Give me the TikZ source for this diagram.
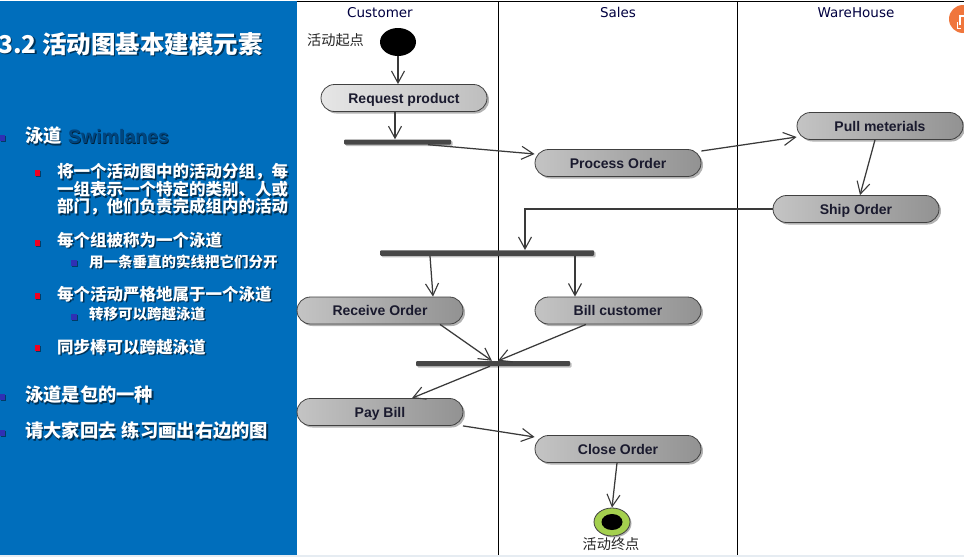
\documentclass[tikz,border=0pt]{standalone}
\usepackage{fontspec}
\setmainfont{Liberation Sans}
\newfontfamily\cjk{Noto Sans CJK SC}
\newfontfamily\verd{DejaVu Sans}
\usetikzlibrary{arrows.meta,shadows,shapes.geometric,shapes.misc,calc}
\definecolor{panel}{HTML}{006EBC}
\definecolor{bulblue}{HTML}{3030B4}
\definecolor{bulred}{HTML}{F00020}
\definecolor{swim}{HTML}{00457F}
\definecolor{arrowgray}{HTML}{3A3A3A}
\definecolor{pillL}{HTML}{C4C4C4}
\definecolor{pillR}{HTML}{929292}
\definecolor{pillLL}{HTML}{E6E6E6}
\definecolor{pillLR}{HTML}{BEBEBE}
\definecolor{endgreen}{HTML}{A4D04E}
\definecolor{iconorange}{HTML}{F0763C}
\definecolor{pilltext}{HTML}{1A1A2E}
\definecolor{strip}{HTML}{E6ECF2}
\tikzset{
 txt/.style={anchor=west,inner sep=0pt,text=white,font=\cjk\bfseries},
 txtshadow/.style={anchor=west,inner sep=0pt,text=black!55!panel,font=\cjk\bfseries},
 bul/.style={minimum size=5.5pt,inner sep=0pt,drop shadow={shadow xshift=1pt,shadow yshift=-1pt,opacity=.45,fill=black}},
 pill/.style={rounded rectangle,draw=black!75,line width=.8pt,minimum width=166pt,minimum height=27pt,inner sep=0pt,
   left color=pillL,right color=pillR,text=pilltext,text height=10.5pt,text depth=.5pt,
   font=\fontsize{14}{15}\selectfont\bfseries,drop shadow={shadow xshift=2pt,shadow yshift=-2pt,opacity=.3,fill=black}},
 pilllight/.style={pill,left color=pillLL,right color=pillLR},
 syncbar/.style={fill=black!72,inner sep=0pt,rounded corners=1pt,drop shadow={shadow xshift=1.5pt,shadow yshift=-1.5pt,opacity=.25,fill=black}},
 flow/.style={draw=arrowgray,line width=1.25pt,-{Straight Barb[length=12pt,width=13pt,line width=1.1pt]}},
 lane/.style={draw=black,line width=1pt},
 head/.style={font=\verd\fontsize{13.5}{15}\selectfont,text=black!75!blue,inner sep=0pt,text height=10pt,text depth=0pt},
 note/.style={font=\cjk\fontsize{14.2}{16}\selectfont,text=black!85,inner sep=0pt},
}
\newcommand{\lbl}[5]{%
 \node[txtshadow,font=\cjk\bfseries\fontsize{#4}{#4}\selectfont] (#1s) at (#2+1.3,#3+1.3) {#5};
 \node[txt,font=\cjk\bfseries\fontsize{#4}{#4}\selectfont] (#1) at (#2,#3) {#5};}
\begin{document}
\begin{tikzpicture}[x=1pt,y=-1pt]
\useasboundingbox (0,0) rectangle (964,557);
\fill[white] (0,0) rectangle (964,557);
\fill[panel] (0,1) rectangle (297,555);
\fill[strip] (0,555) rectangle (964,557);
% lanes
\draw[lane] (297,1) -- (964,1);
\coordinate (laneA) at (498,1);
\coordinate (laneB) at (737,1);
\draw[lane] (laneA) -- (498,555);
\draw[lane] (laneB) -- (737,555);
\node[head] (hc) at (380,12.5) {Customer};
\node[head] (hs) at (618,12.5) {Sales};
\node[head] (hw) at (856,12.5) {WareHouse};
% left text
\lbl{title}{-2}{44}{24.5}{3.2 活动图基本建模元素}
\node[bul,fill=bulblue] (b1) at (2.5,138) {};
\node[txtshadow,text=black!70!panel,font=\fontsize{19.5}{19.5}\selectfont\bfseries] (sws) at (68.6,137.6) {Swimlanes};
\node[txt,text=swim,font=\fontsize{19.5}{19.5}\selectfont\bfseries] (sw) at (68,137) {Swimlanes};
\lbl{l1}{25}{136}{18.3}{泳道}
\node[bul,fill=bulred] (b2) at (37.5,173) {};
\lbl{a1}{57}{172}{16.5}{将一个活动图中的活动分组，每}
\lbl{a2}{57}{189.5}{16.5}{一组表示一个特定的类别、人或}
\lbl{a3}{57}{207}{16.5}{部门，他们负责完成组内的活动}
\node[bul,fill=bulred] (b3) at (37.5,243) {};
\lbl{c1}{57}{240}{16.5}{每个组被称为一个泳道}
\node[bul,fill=bulblue] (b4) at (74,263) {};
\lbl{c2}{89}{261.5}{14.5}{用一条垂直的实线把它们分开}
\node[bul,fill=bulred] (b5) at (37.5,296) {};
\lbl{d1}{57}{294}{16.5}{每个活动严格地属于一个泳道}
\node[bul,fill=bulblue] (b6) at (74,317) {};
\lbl{d2}{89}{314}{14.5}{转移可以跨越泳道}
\node[bul,fill=bulred] (b7) at (37.5,348) {};
\lbl{e1}{57}{347}{16.5}{同步棒可以跨越泳道}
\node[bul,fill=bulblue] (b8) at (2.5,397) {};
\lbl{f1}{25}{395}{18.3}{泳道是包的一种}
\node[bul,fill=bulblue] (b9) at (2.5,433) {};
\lbl{g1}{25}{431}{18.3}{请大家回去 \kern1pt 练习画出右边的图}
% icon
\fill[iconorange] (963,19) circle (14);
\draw[white,line width=1.3pt] (960,25) -- (960,16) -- (964,16);
\draw[white,line width=1pt] (957,22) -- (957,28) -- (961,28);
% nodes
\node[ellipse,fill=black,minimum width=36pt,minimum height=28pt,inner sep=0pt] (start) at (398,42) {};
\node[note] (startl) at (335.5,40) {活动起点};
\node[pilllight] (req) at (404,98) {Request product};
\node[pill] (proc) at (618,163) {Process Order};
\node[pill] (pull) at (880,126) {Pull meterials};
\node[pill] (ship) at (856,209) {Ship Order};
\node[pill] (recv) at (380,310.5) {Receive Order};
\node[pill] (bill) at (618,310.5) {Bill customer};
\node[pill] (pay) at (380,412) {Pay Bill};
\node[pill] (close) at (618,449) {Close Order};
\node[syncbar,minimum width=107pt,minimum height=5pt] (bar1) at (397.5,142) {};
\node[syncbar,minimum width=214pt,minimum height=5.5pt] (bar2) at (487,253) {};
\node[syncbar,minimum width=154pt,minimum height=5pt] (bar3) at (493,363.5) {};
\node[ellipse,draw=black!75,line width=.8pt,fill=endgreen,minimum width=36pt,minimum height=28pt,inner sep=0pt,
  drop shadow={shadow xshift=1.5pt,shadow yshift=-1.5pt,opacity=.3,fill=black}] (end) at (612,522) {};
\node[ellipse,fill=black,minimum width=21pt,minimum height=16pt,inner sep=0pt] (endin) at (end) {};
\node[note] (endl) at (611,544) {活动终点};
% connectors
\draw[flow] (start.south) -- (start.south |- req.north);
\draw[flow] ([xshift=-9pt]req.south) -- ([xshift=-2.5pt]bar1.north);
\draw[flow] ([xshift=30.5pt]bar1.south) -- ([yshift=9pt]proc.west);
\draw[flow] ([yshift=12pt]proc.east) -- ([yshift=-11pt]pull.west);
\draw[flow] ([xshift=-5pt]pull.south) -- ([xshift=4pt]ship.north);
\draw[flow] (ship.west) -| ([xshift=38pt]bar2.north);
\draw[flow] ([xshift=-57pt]bar2.south) -- ([xshift=53pt]recv.north);
\draw[flow] ([xshift=88pt]bar2.south) -- ([xshift=-43pt]bill.north);
\draw[flow] ([xshift=60pt]recv.south) -- ([xshift=-1pt]bar3.north);
\draw[flow] ([xshift=-32pt]bill.south) -- ([xshift=5pt]bar3.north);
\draw[flow] ([xshift=-3pt]bar3.south) -- ([xshift=32pt]pay.north);
\draw[flow] ([xshift=83pt]pay.south) -- ([yshift=12pt]close.west);
\draw[flow] ([xshift=-1pt]close.south) -- (end.north);
\end{tikzpicture}
\end{document}
